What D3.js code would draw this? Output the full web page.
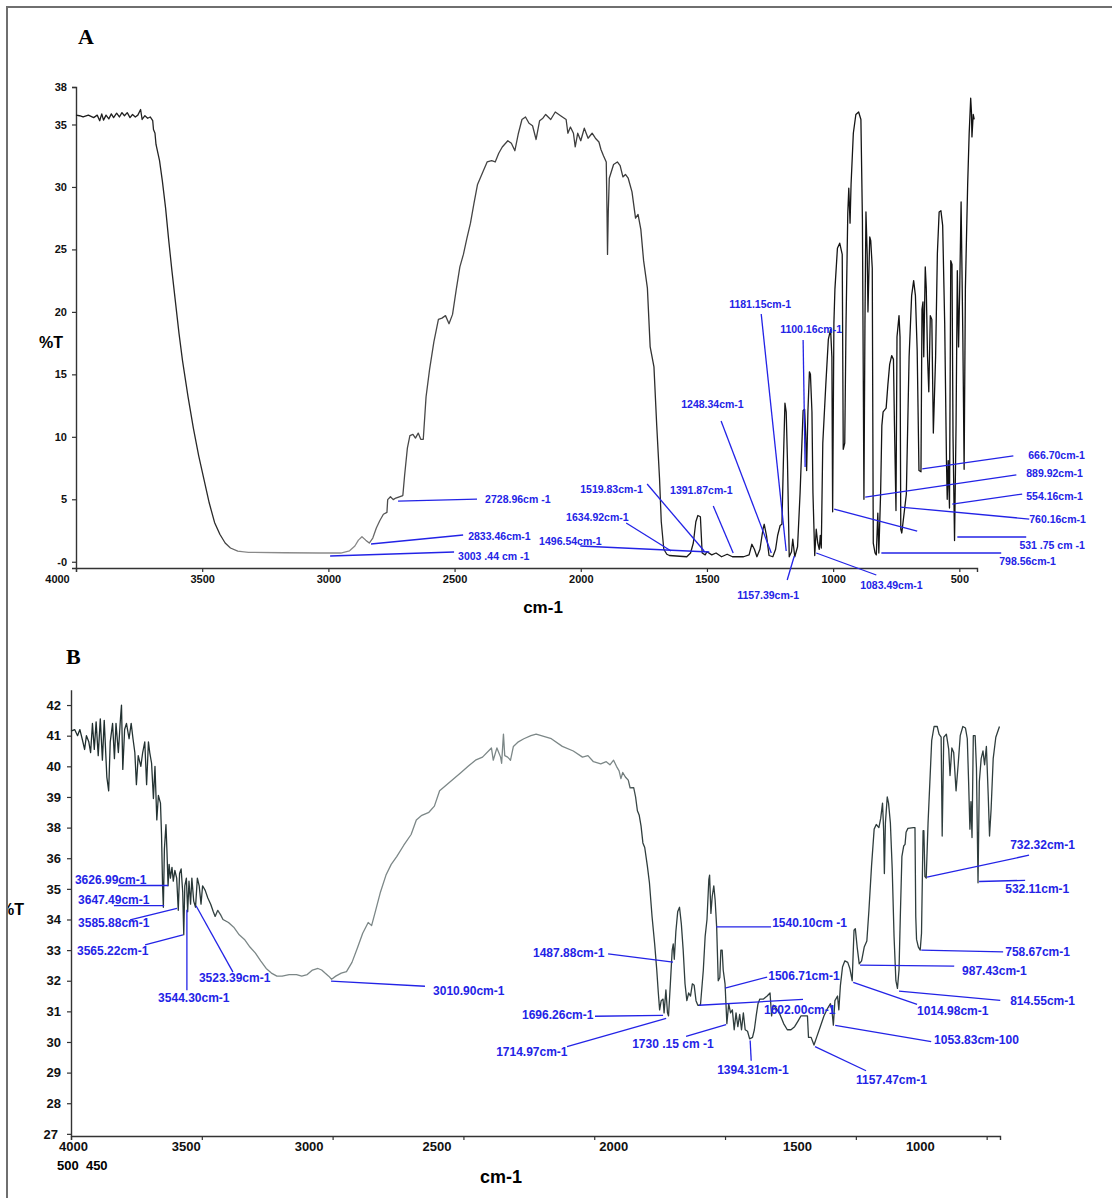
<!DOCTYPE html>
<html>
<head>
<meta charset="utf-8">
<script src="https://cdn.jsdelivr.net/npm/d3@7"></script>
<style>
  body { margin: 0; background: #fff; }
  text { font-family: "Liberation Sans", Arial, sans-serif; }
</style>
</head>
<body>
<svg id="fig" width="1112" height="1198"></svg>
<script>
// ---- data: [wavenumber cm-1, %T] ----
const specA = [
  [4000,35.75],[3986,35.7],[3972,35.6],[3951,35.75],[3930,35.55],[3916,35.75],[3906,35.3],[3898,35.85],
  [3891,35.35],[3881,35.75],[3870,35.45],[3860,35.85],[3851,35.55],[3839,35.9],[3828,35.6],[3818,35.95],
  [3808,35.7],[3797,35.95],[3786,35.55],[3776,35.8],[3765,35.6],[3755,35.75],[3744,36.2],[3738,35.4],
  [3727,35.7],[3716,35.5],[3706,35.6],[3696,35.3],[3693,34.6],[3687,34.3],[3683,33.4],[3669,32.1],
  [3658,30.5],[3645,28.3],[3633,25.8],[3620,23.3],[3606,20.8],[3592,18.3],[3578,16.1],[3556,13.2],
  [3535,10.7],[3514,8.5],[3493,6.6],[3472,4.7],[3451,3.15],[3430,2.2],[3409,1.5],[3388,1.1],
  [3359,0.85],[3317,0.75],[3176,0.72],[3036,0.7],[2951,0.7],[2916,0.88],[2895,1.26],[2881,1.73],
  [2867,2.0],[2852,1.73],[2838,1.5],[2824,1.9],[2810,2.7],[2796,3.3],[2782,3.8],[2768,3.95],
  [2765,4.97],[2754,5.2],[2743,4.97],[2733,5.1],[2719,5.2],[2705,5.3],[2698,6.9],[2687,9.1],
  [2677,10.1],[2665,10.2],[2655,9.9],[2644,10.3],[2634,9.8],[2624,9.8],[2613,13.2],[2599,15.4],
  [2582,17.6],[2564,19.4],[2550,19.5],[2536,19.7],[2522,19.05],[2508,19.8],[2494,21.7],[2479,23.6],
  [2465,24.6],[2451,25.9],[2437,27.1],[2423,28.7],[2409,30.2],[2388,31.2],[2371,32.0],[2353,32.1],
  [2339,32.0],[2325,32.7],[2311,33.2],[2289,33.7],[2275,33.5],[2261,32.9],[2247,34.3],[2233,35.4],
  [2219,35.6],[2205,35.1],[2191,34.9],[2177,33.8],[2163,35.3],[2150,35.5],[2139,35.8],[2119,35.4],
  [2101,36],[2080,35.7],[2058,35.4],[2051,34.3],[2041,34.8],[2029,34.3],[2022,33.2],[2012,34.3],
  [2000,33.7],[1986,34.7],[1971,33.9],[1955,34.3],[1942,33.9],[1928,33.6],[1920,33],[1910,32.5],
  [1899,32],[1896,28],[1894,24.6],[1891,28],[1887,30.7],[1870,31.8],[1855,32],[1844,31.7],
  [1833,30.8],[1823,31],[1812,30.7],[1797,29.6],[1783,27.5],[1773,27.8],[1762,26.6],[1751,24.1],
  [1736,21.9],[1725,17.2],[1710,15.6],[1699,10.9],[1688,6.7],[1681,3.2],[1671,1.0],[1659,0.6],
  [1649,0.5],[1580,0.4],[1565,0.7],[1554,1.5],[1544,3.2],[1536,3.7],[1526,3.6],[1519,0.7],
  [1507,0.55],[1500,0.8],[1481,0.55],[1464,0.7],[1442,0.4],[1420,0.6],[1399,0.4],[1355,0.4],
  [1333,0.55],[1322,1.4],[1312,1.0],[1302,0.4],[1290,1.0],[1278,2.6],[1273,3.0],[1264,2.1],
  [1254,0.5],[1239,0.4],[1228,1.0],[1220,2.1],[1210,2.9],[1203,3.0],[1197,8.1],[1191,12.7],
  [1186,12.0],[1181,8.1],[1174,0.4],[1165,0.8],[1160,1.8],[1152,0.4],[1141,1.2],[1131,5.5],
  [1119,12.1],[1113,12.2],[1109,10.3],[1105,7.3],[1100,12],[1094,15.2],[1090,15.0],[1084,12],
  [1080,5.5],[1073,0.5],[1067,2.6],[1061,1.5],[1055,1.0],[1051,2.1],[1047,1.1],[1041,9.5],
  [1029,14.2],[1019,17.8],[1010,18.6],[1005,16.4],[1002,4.0],[997,19.1],[993,21.8],[983,25.1],
  [974,25.5],[964,24.6],[960,9.0],[954,9.5],[949,19],[942,27.9],[938,29.9],[933,27.1],
  [929,30.2],[920,34.3],[910,35.8],[899,36.0],[890,35.4],[884,27.4],[878,5.0],[874,19],
  [870,28],[865,24.6],[862,20],[855,26],[851,25.7],[845,23.5],[841,1.5],[834,0.7],
  [829,0.55],[823,3.9],[819,0.7],[812,5.4],[807,10.9],[802,12],[790,12.3],[783,14.2],
  [776,15.8],[768,16.5],[761,16.2],[757,10.9],[751,4.1],[747,18],[739,19.7],[735,18],
  [732,2.6],[728,2.3],[710,5.4],[699,16.4],[689,21.3],[681,22.5],[674,21.3],[667,16.9],
  [660,7.3],[652,7.2],[648,20.2],[644,20.8],[641,16.4],[635,23.6],[631,21.9],[626,16.4],
  [621,13.6],[615,19.7],[609,19.4],[603,10.3],[594,16.4],[587,24.7],[580,28],[573,28.1],
  [566,26.9],[558,19.1],[551,8.1],[548,5],[544,8.1],[539,4.3],[534,24.1],[529,23.8],
  [525,10],[519,1.7],[513,10.9],[508,23.3],[503,17.2],[499,21.3],[493,28.8],[486,17.8],
  [481,7.4],[476,21.9],[467,30.2],[461,34.3],[455,37.1],[452,36],[450,34],[445,35.8],[441,35.4]
];

const specB = [
  [4000,41.15],[3986,41.2],[3975,41.0],[3966,41.2],[3956,40.85],[3948,40.55],[3941,41.0],[3932,40.8],
  [3925,40.45],[3918,41.4],[3911,40.55],[3904,41.45],[3896,40.35],[3888,41.55],[3880,40.2],[3873,41.5],
  [3863,39.65],[3856,39.2],[3850,40.8],[3841,41.4],[3834,40.25],[3828,41.4],[3819,40.45],[3811,41.55],
  [3807,42.0],[3802,39.9],[3795,41.2],[3788,41.4],[3778,40.9],[3770,41.4],[3763,40.9],[3756,40.45],
  [3750,39.4],[3743,40.35],[3733,40.0],[3726,40.45],[3718,40.8],[3711,39.4],[3704,40.8],[3699,40.45],
  [3692,40.1],[3685,38.95],[3679,40.0],[3672,38.25],[3666,39.05],[3658,38.8],[3654,37.55],[3650,35.1],
  [3647,34.4],[3643,36.6],[3637,38.1],[3633,36.35],[3629,35.1],[3625,35.8],[3620,35.35],[3614,35.7],
  [3609,35.25],[3603,35.6],[3596,35.35],[3590,34.3],[3585,35.5],[3579,35.65],[3573,34.9],[3569,33.5],
  [3565,35.1],[3559,35.35],[3554,34.25],[3549,35.25],[3543,34.5],[3538,35.35],[3531,34.6],[3524,34.4],
  [3517,35.35],[3510,35.1],[3503,34.5],[3497,35.1],[3487,34.95],[3477,34.7],[3466,34.5],[3456,34.25],
  [3449,34.1],[3439,34.3],[3428,34.15],[3419,34.0],[3398,33.9],[3378,33.75],[3357,33.5],[3337,33.35],
  [3316,33.1],[3295,32.9],[3275,32.65],[3254,32.4],[3234,32.25],[3213,32.15],[3193,32.15],[3166,32.2],
  [3138,32.2],[3118,32.15],[3097,32.2],[3077,32.35],[3056,32.4],[3042,32.35],[3029,32.25],[3015,32.15],
  [3004,32.05],[2988,32.15],[2967,32.25],[2947,32.3],[2926,32.6],[2906,33.05],[2885,33.55],[2864,33.9],
  [2851,33.8],[2837,34.25],[2817,34.9],[2796,35.45],[2776,35.8],[2755,36.1],[2728,36.85],[2700,37.55],
  [2680,38.25],[2659,38.4],[2632,38.5],[2611,38.7],[2591,39.2],[2564,39.4],[2536,39.6],[2509,39.8],
  [2482,40.0],[2454,40.2],[2427,40.3],[2393,40.6],[2386,40.2],[2372,40.6],[2358,40.3],[2354,40.1],
  [2347,41.05],[2342,40.35],[2331,40.3],[2320,40.2],[2309,40.65],[2290,40.8],[2269,40.9],[2242,41.0],
  [2222,41.05],[2164,40.9],[2122,40.65],[2080,40.5],[2045,40.3],[2024,40.35],[2003,40.15],[1975,40.08],
  [1954,40.15],[1940,40.05],[1926,40.2],[1915,40.0],[1905,39.85],[1898,39.6],[1891,39.8],[1881,39.65],
  [1870,39.55],[1863,39.3],[1849,39.3],[1842,39.0],[1835,38.55],[1828,38.4],[1821,38.05],[1814,37.0],
  [1807,36.7],[1797,35.75],[1789,35.2],[1779,34.1],[1769,33.2],[1761,32.35],[1755,31.6],[1750,31.05],
  [1744,31.35],[1737,31.4],[1733,30.95],[1726,31.7],[1720,30.95],[1716,30.85],[1709,31.9],[1702,33.0],
  [1698,33.2],[1694,32.7],[1688,33.6],[1681,34.25],[1674,34.4],[1667,33.85],[1660,33.0],[1653,31.9],
  [1646,31.35],[1639,31.6],[1632,31.5],[1625,31.9],[1618,31.85],[1611,31.35],[1604,31.2],[1594,31.2],
  [1583,32.35],[1576,33.45],[1569,34.0],[1562,35.3],[1559,35.45],[1554,34.2],[1549,34.75],[1543,35.1],
  [1538,34.65],[1532,33.75],[1526,32.0],[1520,32.1],[1516,33.0],[1511,33.0],[1507,32.35],[1500,31.9],
  [1493,30.6],[1486,31.25],[1479,30.95],[1472,31.05],[1465,30.4],[1458,30.95],[1451,30.5],[1444,30.9],
  [1437,30.4],[1430,30.95],[1423,30.4],[1414,30.35],[1406,30.1],[1395,30.15],[1388,30.4],[1381,30.85],
  [1374,31.25],[1367,31.4],[1353,31.4],[1339,31.5],[1328,31.6],[1322,30.85],[1316,31.2],[1304,31.1],
  [1290,30.9],[1276,30.6],[1262,30.4],[1248,30.4],[1234,30.5],[1220,30.7],[1210,30.85],[1196,30.85],
  [1185,30.85],[1181,30.15],[1171,30.15],[1160,29.9],[1150,30.15],[1136,30.5],[1122,30.85],[1108,31.1],
  [1097,31.25],[1091,31.0],[1086,30.55],[1080,31.35],[1070,31.5],[1065,31.05],[1059,31.85],[1051,32.45],
  [1042,32.65],[1031,32.6],[1023,32.4],[1014,32.0],[1007,33.65],[1002,33.7],[995,33.1],[987,32.55],
  [978,32.65],[968,33.1],[958,33.3],[950,34.3],[940,35.75],[930,37.9],[922,38.1],[912,38.0],
  [905,38.3],[898,38.8],[894,37.9],[891,35.5],[887,38.15],[880,39.0],[875,38.8],[868,38.15],
  [861,35.65],[854,33.45],[847,32.0],[841,31.75],[835,32.35],[830,34.1],[824,36.1],[817,36.8],
  [812,36.9],[808,37.7],[801,37.95],[780,38.0],[774,38.0],[771,34.1],[768,33.35],[761,33.1],
  [754,33.0],[749,33.55],[743,37.8],[740,37.8],[736,35.4],[731,35.35],[724,38.15],[717,39.5],
  [710,40.85],[701,41.3],[689,41.3],[682,41.05],[674,40.95],[670,37.45],[664,40.95],[654,41.05],
  [645,40.55],[640,39.7],[633,40.6],[626,40.45],[617,39.2],[609,40.05],[601,41.0],[591,41.3],
  [581,41.25],[574,40.9],[569,39.5],[564,37.9],[560,38.85],[556,37.35],[551,41.0],[544,41.0],
  [539,39.95],[533,35.2],[528,39.5],[521,40.25],[514,40.5],[508,40.05],[501,40.65],[494,39.05],
  [489,37.45],[483,38.6],[475,40.25],[465,40.95],[451,41.3]
];

// tick values
const ticksAX = [4000, 3500, 3000, 2500, 2000, 1500, 1000, 500];
const ticksAY = [0, 5, 10, 15, 20, 25, 30, 35, 38];
const ticksBX = [4000, 3500, 3000, 2500, 2000, 1500, 1000, 500];
const ticksBY = [27, 28, 29, 30, 31, 32, 33, 34, 35, 36, 38, 39, 40, 41, 42];

// peak labels: [text, label wn, label %T, line from wn, %T, line to wn, %T]
const peaksA = [
  ["2728.96cm -1", 2379, 5.02, 2724, 4.86, 2411, 5.02],
  ["2833.46cm-1", 2446, 2.06, 2831, 1.42, 2466, 2.14],
  ["3003 .44 cm -1", 2486, 0.46, 2993, 0.46, 2502, 0.78],
  ["1496.54cm-1", 2165, 1.66, 2002, 1.26, 1491, 0.78],
  ["1634.92cm-1", 2058, 3.58, 1820, 3.1, 1642, 0.86],
  ["1519.83cm-1", 2002, 5.82, 1737, 6.22, 1511, 0.86],
  ["1391.87cm-1", 1646, 5.74, 1475, 4.46, 1396, 0.7],
  ["1248.34cm-1", 1602, 12.63, 1444, 11.27, 1245, 0.7],
  ["1181.15cm-1", 1412, 20.63, 1285, 19.83, 1186, 0.86],
  ["1100.16cm-1", 1210, 18.63, 1119, 17.75, 1111, 7.59],
  ["1157.39cm-1", 1380, -2.66, 1182, -1.46, 1154, 0.46],
  ["1083.49cm-1", 893, -1.86, 1067, 0.7, 829, -1.06],
  ["666.70cm-1", 227, 8.55, 647, 7.43, 286, 8.47],
  ["889.92cm-1", 235, 7.11, 873, 5.18, 274, 6.95],
  ["554.16cm-1", 235, 5.26, 528, 4.62, 251, 5.42],
  ["760.16cm-1", 223, 3.42, 734, 4.38, 223, 3.42],
  ["", 0, 0, 996, 4.22, 667, 2.46],
  ["531 .75 cm -1", 262, 1.34, 508, 1.98, 235, 1.98],
  ["798.56cm-1", 342, 0.06, 809, 0.7, 334, 0.7]
];

const peaksB = [
  ["3626.99cm-1", 3985, 35.28, 3820, 35.11, 3629, 35.11],
  ["3647.49cm-1", 3973, 34.65, 3836, 34.45, 3644, 34.45],
  ["3585.88cm-1", 3973, 33.89, 3774, 33.99, 3595, 34.36],
  ["3565.22cm-1", 3977, 32.97, 3717, 33.17, 3572, 33.5],
  ["3523.39cm-1", 3511, 32.09, 3381, 32.28, 3522, 34.45],
  ["3544.30cm-1", 3667, 31.43, 3557, 31.69, 3557, 34.32],
  ["3010.90cm-1", 2616, 31.66, 2647, 31.82, 3006, 31.99],
  ["1540.10cm -1", 1320, 33.89, 1534, 33.76, 1324, 33.76],
  ["1487.88cm-1", 2234, 32.91, 1947, 32.88, 1699, 32.61],
  ["1506.71cm-1", 1335, 32.15, 1500, 31.76, 1339, 32.12],
  ["1602.00cm-1", 1351, 31.03, 1599, 31.2, 1202, 31.39],
  ["1696.26cm-1", 2276, 30.87, 1997, 30.84, 1737, 30.87],
  ["1714.97cm-1", 2375, 29.68, 2104, 29.85, 1725, 30.77],
  ["1730 .15 cm -1", 1855, 29.95, 1649, 30.18, 1496, 30.57],
  ["1394.31cm-1", 1530, 29.09, 1404, 30.05, 1400, 29.39],
  ["1157.47cm-1", 999, 28.76, 1156, 29.85, 961, 29.06],
  ["1053.83cm-100", 701, 30.08, 1079, 30.54, 712, 30.01],
  ["1014.98cm-1", 766, 31.0, 1010, 31.95, 766, 31.23],
  ["987.43cm-1", 594, 32.32, 984, 32.51, 624, 32.48],
  ["814.55cm-1", 410, 31.33, 835, 31.66, 448, 31.36],
  ["758.67cm-1", 429, 32.94, 750, 33.0, 437, 32.94],
  ["732.32cm-1", 410, 36.86, 728, 35.38, 338, 36.2],
  ["532.11cm-1", 429, 35.01, 529, 35.24, 353, 35.28]
];

// ---- layout ----
const svg = d3.select("#fig");
const blue = "#2323e6";
const axisCol = "#333";
const plain = d3.format("d");

svg.append("path")
   .attr("d", "M7,1198V7H1112")
   .attr("fill", "none")
   .attr("stroke", "#6f6f6f")
   .attr("stroke-width", 2);

const defs = svg.append("defs");
defs.append("clipPath").attr("id", "inside")
    .append("rect").attr("x", 8).attr("y", 0).attr("width", 1104).attr("height", 1198);

// shading of the trace along x (the scans print lighter in the flat regions)
function strokeGradient(id, x, stops) {
  const [x0, x1] = x.range();
  const g = defs.append("linearGradient")
                .attr("id", id)
                .attr("gradientUnits", "userSpaceOnUse")
                .attr("x1", x0).attr("x2", x1).attr("y1", 0).attr("y2", 0);
  stops.forEach(s => {
    g.append("stop")
     .attr("offset", (x(s[0]) - x0) / (x1 - x0))
     .attr("stop-color", s[1]);
  });
}

function styleAxis(g, size) {
  g.selectAll(".domain").attr("stroke", axisCol).attr("stroke-width", 1.4);
  g.selectAll(".tick line").attr("stroke", axisCol).attr("stroke-width", 1.2);
  g.selectAll(".tick text")
   .attr("fill", "#111")
   .style("font-size", size + "px")
   .style("font-weight", "bold");
}

function drawPeaks(list, x, y, size) {
  const g = svg.append("g");
  g.selectAll("line")
   .data(list)
   .enter().append("line")
   .attr("x1", d => x(d[3])).attr("y1", d => y(d[4]))
   .attr("x2", d => x(d[5])).attr("y2", d => y(d[6]))
   .attr("stroke", blue)
   .attr("stroke-width", 1.3);
  g.selectAll("text")
   .data(list.filter(d => d[0]))
   .enter().append("text")
   .attr("x", d => x(d[1]))
   .attr("y", d => y(d[2]))
   .attr("dominant-baseline", "central")
   .attr("fill", blue)
   .style("font-size", size + "px")
   .style("font-weight", "bold")
   .text(d => d[0]);
}

// ****************** panel A ******************
const xA = d3.scaleLinear().domain([4000, 430]).range([76, 977]);
const yA = d3.scaleLinear().domain([-0.5, 38]).range([568, 87]);

strokeGradient("shadeA", xA, [
  [4000, "#1c1c1c"], [3430, "#2a2a2a"], [3340, "#8a8a8a"], [2880, "#8a8a8a"],
  [2760, "#4a4a4a"], [1750, "#3a3a3a"], [1650, "#1a1a1a"], [430, "#111"]
]);

const gxA = svg.append("g")
               .attr("transform", "translate(0,568)")
               .call(d3.axisBottom(xA).tickValues(ticksAX).tickSize(4).tickPadding(3).tickSizeOuter(4)
                       .tickFormat(plain));
styleAxis(gxA, 11);
gxA.selectAll(".tick text").attr("dx", d => d === 4000 ? -19 : 0);

const gyA = svg.append("g")
               .attr("transform", "translate(76,0)")
               .call(d3.axisLeft(yA).tickValues(ticksAY).tickSize(4).tickPadding(5)
                       .tickFormat(d => d === 0 ? "-0" : plain(d)));
styleAxis(gyA, 11);

svg.append("path")
   .datum(specA)
   .attr("fill", "none")
   .attr("stroke", "url(#shadeA)")
   .attr("stroke-width", 1.3)
   .attr("stroke-linejoin", "round")
   .attr("d", d3.line().x(d => xA(d[0])).y(d => yA(d[1])));

drawPeaks(peaksA, xA, yA, 10.5);

svg.append("text").attr("x", 78).attr("y", 36)
   .attr("dominant-baseline", "central")
   .style("font-family", "'Liberation Serif', 'Times New Roman', serif")
   .style("font-size", "22px").style("font-weight", "bold")
   .text("A");
svg.append("text").attr("x", 51).attr("y", 342)
   .attr("text-anchor", "middle").attr("dominant-baseline", "central")
   .style("font-size", "16px").style("font-weight", "bold")
   .text("%T");
svg.append("text").attr("x", 543).attr("y", 607)
   .attr("text-anchor", "middle").attr("dominant-baseline", "central")
   .style("font-size", "17px").style("font-weight", "bold")
   .text("cm-1");

// ****************** panel B ******************
const step = 30.64;
const xB = d3.scaleLinear().domain([4000, 449]).range([71, 1000]);
// the printed scale jumps from 36 straight to 38 in one tick step
const yB = d3.scaleLinear()
             .domain([26.93, 36, 38, 42.5])
             .range([1136, 1134 - 9 * step, 1134 - 10 * step, 1134 - 14.5 * step]);

strokeGradient("shadeB", xB, [
  [4000, "#1d2c2c"], [3460, "#2a3939"], [3380, "#7c8787"], [1900, "#7c8787"],
  [1830, "#2f3d3d"], [449, "#2f3d3d"]
]);

// label nudges copy the misregistered tick labels of the original print
const nudgeB = {4000: 2, 3500: -16, 3000: -24, 2500: -27, 2000: 19, 1500: 72, 1000: 64};
const gxB = svg.append("g")
               .attr("transform", "translate(0,1136)")
               .call(d3.axisBottom(xB).tickValues(ticksBX).tickSize(4).tickPadding(2).tickSizeOuter(4)
                       .tickFormat(d => nudgeB[d] === undefined ? "" : plain(d)));
styleAxis(gxB, 13);
gxB.selectAll(".tick text").attr("dx", d => nudgeB[d] || 0);

const gyB = svg.append("g")
               .attr("transform", "translate(71,0)")
               .call(d3.axisLeft(yB).tickValues(ticksBY).tickSize(4).tickPadding(6).tickSizeOuter(0)
                       .tickFormat(plain));
styleAxis(gyB, 13);
gyB.selectAll(".tick text").attr("dx", d => d === 27 ? -3 : 0);

svg.append("path")
   .datum(specB)
   .attr("fill", "none")
   .attr("stroke", "url(#shadeB)")
   .attr("stroke-width", 1.3)
   .attr("stroke-linejoin", "round")
   .attr("d", d3.line().x(d => xB(d[0])).y(d => yB(d[1])));

drawPeaks(peaksB, xB, yB, 12);

svg.append("text").attr("x", 66).attr("y", 656)
   .attr("dominant-baseline", "central")
   .style("font-family", "'Liberation Serif', 'Times New Roman', serif")
   .style("font-size", "22px").style("font-weight", "bold")
   .text("B");
svg.append("text").attr("x", 24).attr("y", 909)
   .attr("text-anchor", "end").attr("dominant-baseline", "central")
   .attr("clip-path", "url(#inside)")
   .style("font-size", "16px").style("font-weight", "bold")
   .text("%T");
svg.append("text").attr("x", 501).attr("y", 1177)
   .attr("text-anchor", "middle").attr("dominant-baseline", "central")
   .style("font-size", "18px").style("font-weight", "bold")
   .text("cm-1");
svg.append("text").attr("x", 57).attr("y", 1165)
   .attr("dominant-baseline", "central")
   .style("white-space", "pre")
   .style("font-size", "13px").style("font-weight", "bold")
   .text("500  450");
</script>
</body>
</html>
